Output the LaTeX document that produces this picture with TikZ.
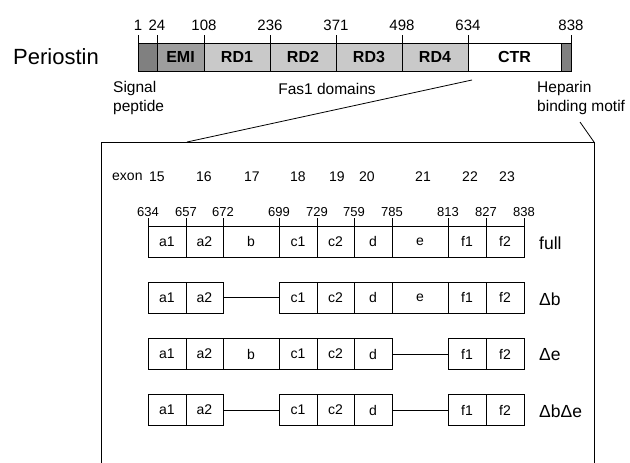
\documentclass[tikz,border=0pt]{standalone}
\usepackage{fontspec}
\setmainfont{Liberation Sans}
\usepackage{xcolor}
\usepackage{tikz}
\usetikzlibrary{positioning}
\definecolor{sigcol}{gray}{0.50}
\definecolor{emicol}{gray}{0.62}
\definecolor{rdcol}{gray}{0.79}
\tikzstyle{dom} = [rectangle, draw=black, line width=0.8pt, inner sep=0pt, outer sep=0pt, minimum height=28pt, font=\fontsize{16}{16}\selectfont\bfseries]
\tikzstyle{exon} = [rectangle, draw=black, line width=0.8pt, inner sep=0pt, outer sep=0pt, minimum height=31pt, font=\fontsize{14}{14}\selectfont]
\tikzstyle{topnum} = [font=\fontsize{15}{15}\selectfont, inner sep=0pt, above=4pt]
\tikzstyle{lownum} = [font=\fontsize{13}{13}\selectfont, inner sep=0pt, above=0pt]
\tikzstyle{label} = [font=\fontsize{15.5}{18.5}\selectfont, align=left, inner sep=0pt]
\tikzstyle{rowlabel} = [font=\fontsize{17.5}{17.5}\selectfont, inner sep=0pt, anchor=west]
\tikzstyle{exonnum} = [font=\fontsize{14}{14}\selectfont, inner sep=0pt]
\tikzstyle{tickmark} = [line width=0.8pt]
\tikzstyle{link} = [line width=0.8pt]

\begin{document}
\begin{tikzpicture}[x=1pt, y=-1pt]
    \useasboundingbox (0,0) rectangle (630,463);
    \clip (0,0) rectangle (630,463);

    % full-length protein
    \node (name) [font=\fontsize{22}{22}\selectfont] at (56,57) {Periostin};
    \node (sig) [dom, fill=sigcol, minimum width=19pt, anchor=west] at (138,57) {};
    \node (emi) [dom, fill=emicol, minimum width=47pt, right=0pt of sig] {EMI};
    \node (rd1) [dom, fill=rdcol, minimum width=66pt, right=0pt of emi] {RD1};
    \node (rd2) [dom, fill=rdcol, minimum width=66pt, right=0pt of rd1] {RD2};
    \node (rd3) [dom, fill=rdcol, minimum width=66pt, right=0pt of rd2] {RD3};
    \node (rd4) [dom, fill=rdcol, minimum width=66pt, right=0pt of rd3] {RD4};
    \node (ctr) [dom, fill=white, minimum width=93pt, right=0pt of rd4] {CTR};
    \node (hep) [dom, fill=sigcol, minimum width=10pt, right=0pt of ctr] {};

    \draw [tickmark] (sig.north west) -- ++(0,-8) node [topnum] {1};
    \draw [tickmark] (emi.north west) -- ++(0,-8) node [topnum] {24};
    \draw [tickmark] (rd1.north west) -- ++(0,-8) node [topnum] {108};
    \draw [tickmark] (rd2.north west) -- ++(0,-8) node [topnum] {236};
    \draw [tickmark] (rd3.north west) -- ++(0,-8) node [topnum] {371};
    \draw [tickmark] (rd4.north west) -- ++(0,-8) node [topnum] {498};
    \draw [tickmark] (ctr.north west) -- ++(0,-8) node [topnum] {634};
    \draw [tickmark] (hep.north east) -- ++(0,-8) node [topnum] {838};

    \node (siglab) [label, anchor=west] at (113,98) {Signal\\peptide};
    \node (faslab) [label] at (327,89) {Fas1 domains};
    \node (heplab) [label, anchor=west] at (537,98) {Heparin\\binding motif};

    % zoomed C-terminal region
    \node (detail) [draw, line width=1pt, inner sep=0pt, outer sep=0pt, minimum width=493pt, minimum height=360pt, anchor=north west] at (101,142) {};
    \coordinate (zfrom) at ([xshift=4pt, yshift=-9pt]ctr.south west);
    \coordinate (zto) at (187,142);
    \coordinate (hfrom) at (580,122);
    \draw [link] (zfrom) -- (zto);
    \draw [link] (hfrom) -- (detail.north east);

    \node (exonlab) [exonnum, anchor=west] at (112,177) {exon};
    \foreach \x/\t in {157/15, 204/16, 252/17, 298/18, 337/19, 367/20, 423/21, 470/22, 507/23}
        \node (ex\t) [exonnum] at (\x,177) {\t};

    % splice variants
    \foreach \n/\xa/\xb in {a1/148/186, a2/186/223, b/223/279, c1/279/317, c2/317/354, d/354/392, e/392/448, f1/448/486, f2/486/524}
        \node (full\n) [exon, minimum width={\xb pt-\xa pt}] at ({(\xa+\xb)/2},241.5) {\n};
    \foreach \n/\xa/\xb in {a1/148/186, a2/186/223, c1/279/317, c2/317/354, d/354/392, e/392/448, f1/448/486, f2/486/524}
        \node (db\n) [exon, minimum width={\xb pt-\xa pt}] at ({(\xa+\xb)/2},297.5) {\n};
    \foreach \n/\xa/\xb in {a1/148/186, a2/186/223, b/223/279, c1/279/317, c2/317/354, d/354/392, f1/448/486, f2/486/524}
        \node (de\n) [exon, minimum width={\xb pt-\xa pt}] at ({(\xa+\xb)/2},354) {\n};
    \foreach \n/\xa/\xb in {a1/148/186, a2/186/223, c1/279/317, c2/317/354, d/354/392, f1/448/486, f2/486/524}
        \node (dbde\n) [exon, minimum width={\xb pt-\xa pt}] at ({(\xa+\xb)/2},410) {\n};

    \foreach \n/\t in {a1/634, a2/657, b/672, c1/699, c2/729, d/759, e/785, f1/813, f2/827}
        \draw [tickmark] (full\n.north west) -- ++(0,-8.5) node [lownum] {\t};
    \draw [tickmark] (fullf2.north east) -- ++(0,-8.5) node [lownum] {838};

    \draw [link] (dba2) -- (dbc1);
    \draw [link] (ded) -- (def1);
    \draw [link] (dbdea2) -- (dbdec1);
    \draw [link] (dbded) -- (dbdef1);

    \node (fulllab) [rowlabel] at (539,243) {full};
    \node (dblab) [rowlabel] at (539,299) {Δb};
    \node (delab) [rowlabel] at (539,355) {Δe};
    \node (dbdelab) [rowlabel] at (539,411) {ΔbΔe};
\end{tikzpicture}
\end{document}
